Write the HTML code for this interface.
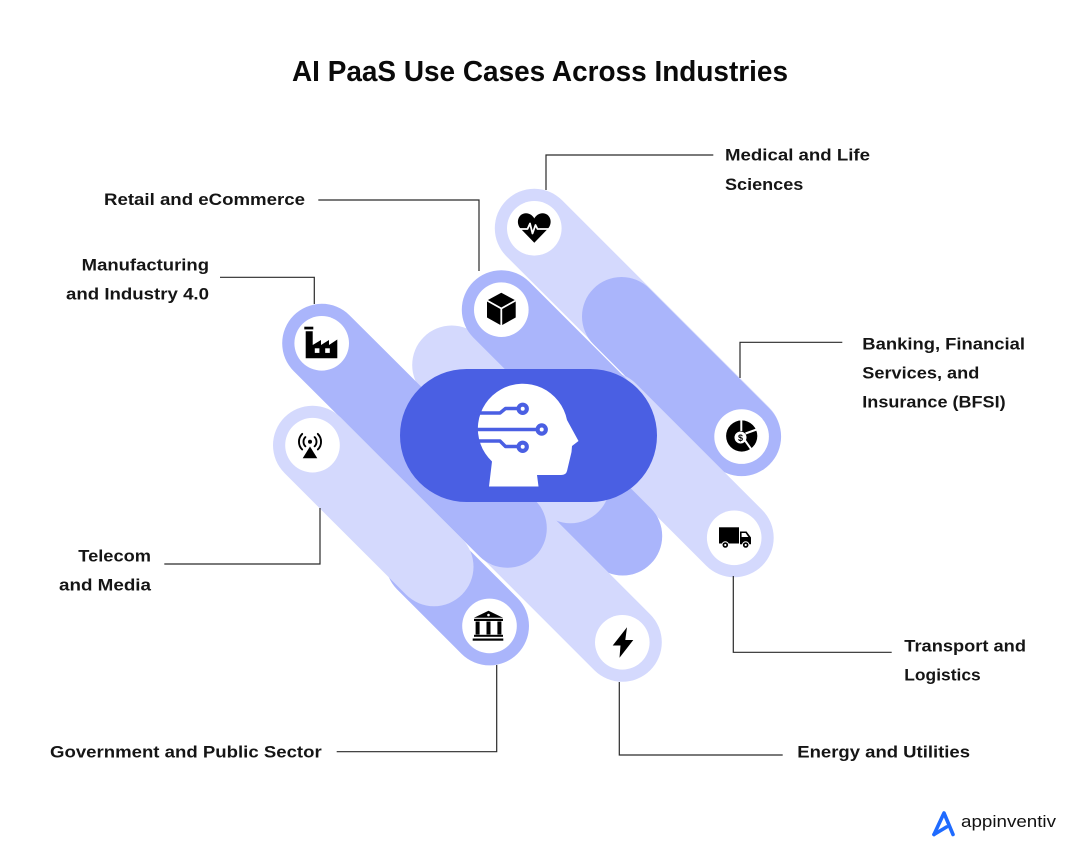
<!DOCTYPE html>
<html>
<head>
<meta charset="utf-8">
<style>
  html,body{margin:0;padding:0;background:#fff;}
  svg{display:block;}
  .lbl{font-family:"Liberation Sans",Arial,sans-serif;font-weight:bold;font-size:17px;fill:#151515;}
</style>
</head>
<body>
<svg width="1080" height="862" viewBox="0 0 1080 862" xmlns="http://www.w3.org/2000/svg">
  <rect width="1080" height="862" fill="#fff"/>

  <!-- Title -->
  <text x="292" y="81" font-family="Liberation Sans, Arial, sans-serif" font-weight="bold" font-size="29" fill="#0a0a0a" textLength="496" lengthAdjust="spacingAndGlyphs">AI PaaS Use Cases Across Industries</text>

  <!-- Capsules -->
  <g stroke-linecap="round" stroke-width="79" fill="none">
    <line x1="534.3" y1="228.3" x2="741" y2="435" stroke="#d4d9fd"/>
    <line x1="621.5" y1="316.5" x2="741.6" y2="436.6" stroke="#aab5fb"/>
    <line x1="608" y1="411.6" x2="734.2" y2="537.8" stroke="#d4d9fd"/>
    <line x1="480" y1="393.3" x2="622.7" y2="536" stroke="#aab5fb"/>
    <line x1="451.7" y1="365" x2="570.5" y2="483.8" stroke="#d4d9fd"/>
    <line x1="501.3" y1="309.7" x2="598" y2="406.4" stroke="#aab5fb"/>
    <line x1="420" y1="440" x2="622.3" y2="642.3" stroke="#d4d9fd"/>
    <line x1="321.7" y1="343.3" x2="507.3" y2="528.3" stroke="#aab5fb"/>
    <line x1="425" y1="561.4" x2="489.5" y2="625.9" stroke="#aab5fb"/>
    <line x1="312.5" y1="445.2" x2="434" y2="566.7" stroke="#d4d9fd"/>
  </g>

  <!-- White icon circles -->
  <g fill="#fff">
    <circle cx="534.3" cy="228.3" r="27.3"/>
    <circle cx="501.3" cy="309.7" r="27.3"/>
    <circle cx="321.7" cy="343.3" r="27.3"/>
    <circle cx="312.5" cy="445.2" r="27.3"/>
    <circle cx="741.6" cy="436.6" r="27.3"/>
    <circle cx="734.2" cy="537.8" r="27.3"/>
    <circle cx="489.5" cy="625.9" r="27.3"/>
    <circle cx="622.3" cy="642.3" r="27.3"/>
  </g>

  <!-- Heart icon -->
  <path d="M534.3,242.7 L520.5,228.5 C515.5,223 518,213.5 526,213.3 C530,213.3 533,216 534.3,218.5 C535.6,216 538.6,213.3 542.6,213.3 C550.6,213.5 553.1,223 548.1,228.5 Z" fill="#000"/>
  <polyline points="518,229 527.5,229 530,223.5 532.5,233.5 535.5,225 537.5,229 551,229" fill="none" stroke="#fff" stroke-width="1.8" stroke-linejoin="round"/>

  <!-- Box icon -->
  <polygon points="501.3,292.7 515.7,300.5 515.7,317.5 501.3,325.5 487,317.5 487,300.5" fill="#000"/>
  <polyline points="487,300.5 501.3,308.5 515.7,300.5" fill="none" stroke="#fff" stroke-width="1.8"/>
  <line x1="501.3" y1="308.5" x2="501.3" y2="326" stroke="#fff" stroke-width="1.8"/>

  <!-- Factory icon -->
  <rect x="304.3" y="326.7" width="9" height="2.7" fill="#000"/>
  <path d="M305.7,358.3 V331.2 H312.7 V345 L321,340 V345 L329,340 V345 L337.3,339.5 V358.3 Z" fill="#000"/>
  <rect x="314.8" y="348.3" width="4.6" height="4.6" fill="#fff"/>
  <rect x="325.2" y="348.3" width="4.6" height="4.6" fill="#fff"/>

  <!-- Telecom icon -->
  <circle cx="310" cy="441.7" r="2" fill="#000"/>
  <g fill="none" stroke="#000" stroke-width="1.9" stroke-linecap="round">
    <path d="M305.4,437.1 A6.5,6.5 0 0 0 305.4,446.3"/>
    <path d="M314.6,437.1 A6.5,6.5 0 0 1 314.6,446.3"/>
    <path d="M302.2,433.9 A11,11 0 0 0 302.2,449.5"/>
    <path d="M317.8,433.9 A11,11 0 0 1 317.8,449.5"/>
  </g>
  <polygon points="302.7,458.3 317.3,458.3 310,446.5" fill="#000"/>

  <!-- BFSI icon -->
  <circle cx="741.7" cy="436" r="15.6" fill="#000"/>
  <g stroke="#fff" stroke-width="2" fill="none">
    <line x1="741.3" y1="431" x2="741.3" y2="419"/>
    <line x1="745.5" y1="433.5" x2="758" y2="429"/>
    <line x1="745" y1="440.5" x2="752.5" y2="451"/>
  </g>
  <circle cx="740.5" cy="437.5" r="6" fill="#fff"/>
  <text x="740.5" y="440.8" text-anchor="middle" font-family="Liberation Sans, Arial, sans-serif" font-weight="bold" font-size="9" fill="#000">$</text>

  <!-- Truck icon -->
  <rect x="719" y="527.3" width="20" height="16.2" fill="#000"/>
  <path d="M740,531.5 H746.5 L751,537.5 V544.3 H740 Z" fill="#000"/>
  <polygon points="741.6,533 745.6,533 748.4,537 741.6,537" fill="#fff"/>
  <circle cx="725.3" cy="545" r="3.3" fill="#000" stroke="#fff" stroke-width="1"/>
  <circle cx="725.3" cy="545" r="1.1" fill="#fff"/>
  <circle cx="745.7" cy="545" r="3.3" fill="#000" stroke="#fff" stroke-width="1"/>
  <circle cx="745.7" cy="545" r="1.1" fill="#fff"/>

  <!-- Government icon -->
  <polygon points="474,617.7 488.5,610.7 503,617.7" fill="#000"/>
  <circle cx="488.5" cy="615" r="1.3" fill="#fff"/>
  <rect x="474" y="618.8" width="29" height="2.2" fill="#000"/>
  <rect x="475.6" y="621.5" width="4" height="13" fill="#000"/>
  <rect x="486.5" y="621.5" width="4" height="13" fill="#000"/>
  <rect x="497.4" y="621.5" width="4" height="13" fill="#000"/>
  <rect x="474" y="634.8" width="29" height="2" fill="#000"/>
  <rect x="472.7" y="638.5" width="30.6" height="2.2" fill="#000"/>

  <!-- Energy icon -->
  <path d="M627,627.3 L612.7,645.5 H620.5 L619.5,657.7 L633.3,640 H625.3 Z" fill="#000"/>

  <!-- Central pill -->
  <rect x="400" y="369" width="257" height="133" rx="66.5" ry="66.5" fill="#4a5fe3"/>

  <!-- Head icon -->
  <path d="M489,486.5 L492,461.5 A45,45 0 1 1 567,420 L578.5,441 L572,446 L571.5,452 L567,471 Q566,475 561,475 L537,475 L538.5,486.5 Z" fill="#fff"/>
  <g fill="none" stroke="#4a5fe3" stroke-width="3.4" stroke-linejoin="round">
    <path d="M474,413 H500 L505.5,408.5 H518"/>
    <path d="M474,429.5 H537"/>
    <path d="M474,441 H500 L505.5,446.5 H518"/>
  </g>
  <g fill="#fff" stroke="#4a5fe3" stroke-width="4.2">
    <circle cx="522.7" cy="408.8" r="4.1"/>
    <circle cx="541.7" cy="429.5" r="4.1"/>
    <circle cx="522.7" cy="446.8" r="4.1"/>
  </g>

  <!-- Connectors -->
  <g fill="none" stroke="#2a2a2a" stroke-width="1.2">
    <polyline points="713.3,155 546,155 546,190"/>
    <polyline points="318.3,200 479,200 479,271"/>
    <polyline points="220,277.3 314.3,277.3 314.3,304"/>
    <polyline points="842.3,342.3 740,342.3 740,378"/>
    <polyline points="164.3,564 320,564 320,508"/>
    <polyline points="733.3,576 733.3,652.3 891.7,652.3"/>
    <polyline points="496.7,665 496.7,751.7 336.7,751.7"/>
    <polyline points="619.3,682 619.3,755 782.7,755"/>
  </g>

  <!-- Labels -->
  <text class="lbl" x="725" y="160.7" textLength="145" lengthAdjust="spacingAndGlyphs">Medical and Life</text>
  <text class="lbl" x="725" y="190" textLength="78.3" lengthAdjust="spacingAndGlyphs">Sciences</text>

  <text class="lbl" x="104" y="205" textLength="201" lengthAdjust="spacingAndGlyphs">Retail and eCommerce</text>

  <text class="lbl" x="81.7" y="270.7" textLength="127.3" lengthAdjust="spacingAndGlyphs">Manufacturing</text>
  <text class="lbl" x="66" y="299.3" textLength="143" lengthAdjust="spacingAndGlyphs">and Industry 4.0</text>

  <text class="lbl" x="862.3" y="349.3" textLength="162.7" lengthAdjust="spacingAndGlyphs">Banking, Financial</text>
  <text class="lbl" x="862.3" y="378.3" textLength="117" lengthAdjust="spacingAndGlyphs">Services, and</text>
  <text class="lbl" x="862.3" y="407.3" textLength="143.3" lengthAdjust="spacingAndGlyphs">Insurance (BFSI)</text>

  <text class="lbl" x="78.3" y="561.7" textLength="72.7" lengthAdjust="spacingAndGlyphs">Telecom</text>
  <text class="lbl" x="59" y="590.7" textLength="92" lengthAdjust="spacingAndGlyphs">and Media</text>

  <text class="lbl" x="904.3" y="651.7" textLength="121.7" lengthAdjust="spacingAndGlyphs">Transport and</text>
  <text class="lbl" x="904.3" y="680.7" textLength="76.4" lengthAdjust="spacingAndGlyphs">Logistics</text>

  <text class="lbl" x="50" y="757.5" textLength="271.7" lengthAdjust="spacingAndGlyphs">Government and Public Sector</text>
  <text class="lbl" x="797.3" y="757.5" textLength="172.7" lengthAdjust="spacingAndGlyphs">Energy and Utilities</text>

  <!-- Logo -->
  <g fill="none" stroke="#1f6bff" stroke-width="3.6" stroke-linecap="round" stroke-linejoin="round">
    <path d="M934,834.5 L944,813 L953,834.5"/>
    <path d="M934,834.5 L946.5,827"/>
  </g>
  <text x="961" y="827" font-family="Liberation Sans, Arial, sans-serif" font-size="17" fill="#111" textLength="95" lengthAdjust="spacingAndGlyphs">appinventiv</text>
</svg>
</body>
</html>
